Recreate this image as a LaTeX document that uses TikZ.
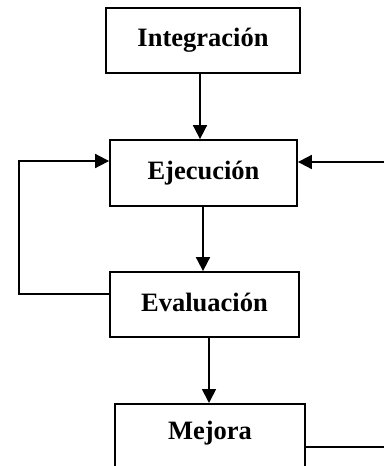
\documentclass[tikz,border=0pt]{standalone}
\usepackage{fontspec}
\setmainfont{Liberation Serif}
\usetikzlibrary{arrows.meta,calc}
\begin{document}
\begin{tikzpicture}[x=1pt,y=-1pt,
  stepbox/.style={draw,line width=1.8pt,inner sep=0pt,font=\fontsize{26.5}{30}\selectfont\bfseries},
  conn/.style={line width=1.8pt},
  arr/.style={conn,-{Triangle[length=14pt,width=14pt]}}]
\useasboundingbox (0,0) rectangle (384,466);
\clip (0,0) rectangle (384,466);
\node[stepbox,minimum width=194pt,minimum height=65pt] (int) at (203,40.5) {\raisebox{2pt}{Integración}};
\node[stepbox,minimum width=187pt,minimum height=66pt] (eje) at (203.5,173) {\raisebox{5pt}{Ejecución}};
\node[stepbox,minimum width=189pt,minimum height=65pt] (eva) at (204.5,304.5) {\raisebox{5pt}{Evaluación}};
\node[stepbox,minimum width=190pt,minimum height=72pt,anchor=north] (mej) at (210,403) {\raisebox{20pt}{Mejora}};
\coordinate (rin) at (384,162);
\coordinate (rout) at (384,447);
\coordinate (lx) at (19,0);
\draw[arr] ([xshift=-3pt]int.south) -- ([xshift=-3pt]int.south |- eje.north);
\draw[arr] ([xshift=-0.5pt]eje.south) -- ([xshift=-0.5pt]eje.south |- eva.north);
\draw[arr] ([xshift=4.5pt]eva.south) -- ([xshift=4.5pt]eva.south |- mej.north);
\draw[arr] (rin) -- (rin -| eje.east);
\draw[conn] (mej.east |- rout) -- (rout);
\draw[arr] ([yshift=10.5pt]eva.west) -| ([yshift=12pt]lx |- eje.west) -- ([yshift=12pt]eje.west);
\end{tikzpicture}
\end{document}
